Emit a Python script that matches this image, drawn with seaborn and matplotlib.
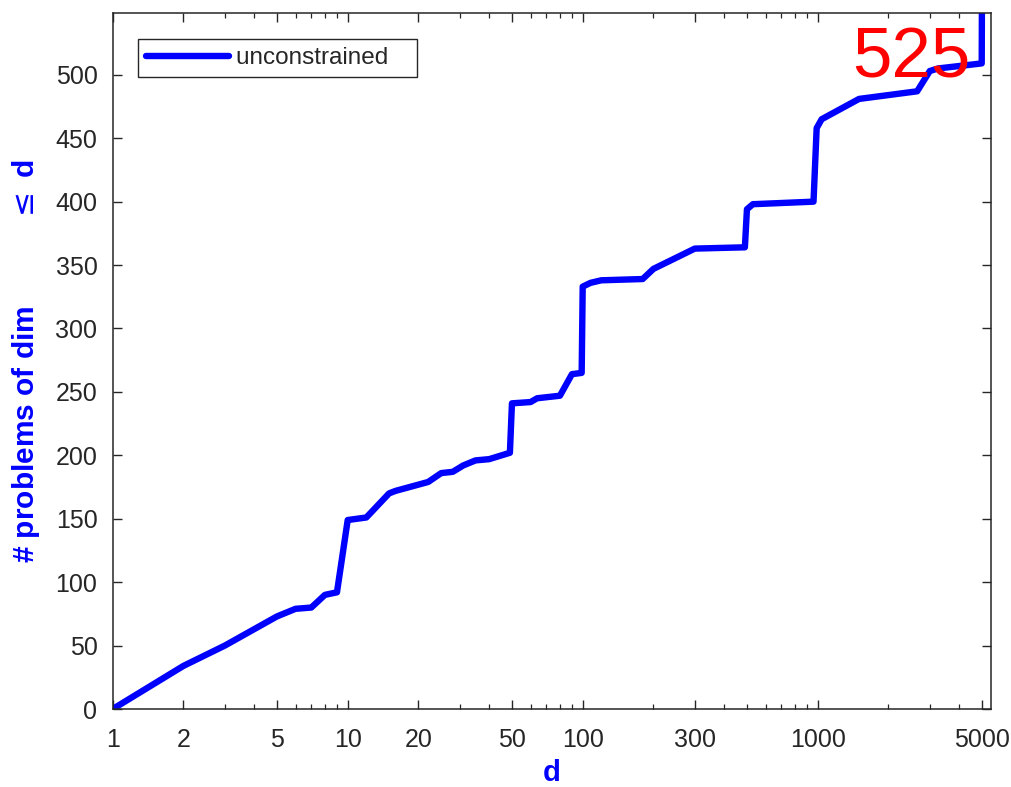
import matplotlib
matplotlib.use("Agg")
import matplotlib.pyplot as plt
import matplotlib.ticker as mticker
import seaborn as sns
import pandas as pd

# data
dims = [1, 2, 3, 5, 6, 7, 8, 9, 10, 12, 15, 16, 22, 25, 28, 31, 35, 40, 49, 50,
        60, 64, 80, 90, 99, 100, 108, 120, 180, 200, 300, 490, 500, 530, 960,
        990, 1040, 1500, 2650, 3000, 3250, 4990, 5000]
counts = [0, 34, 50, 73, 79, 80, 90, 92, 149, 151, 170, 172, 179, 186, 187, 192,
          196, 197, 202, 241, 242, 245, 247, 264, 265, 333, 336, 338, 339, 347,
          363, 364, 394, 398, 400, 458, 465, 481, 487, 503, 505, 509, 560]
series_name = "unconstrained"
total_label = "525"
xtick_values = [1, 2, 5, 10, 20, 50, 100, 300, 1000, 5000]
ytick_values = [0, 50, 100, 150, 200, 250, 300, 350, 400, 450, 500]

sns.set_style("ticks")
plt.rcParams["font.family"] = ["Liberation Sans", "DejaVu Sans"]

df = pd.DataFrame({"d": dims, "n": counts, "series": series_name})

fig = plt.figure(figsize=(10.11, 7.87), dpi=100)
ax = fig.add_axes([0.1115, 0.0991, 0.8690, 0.8848])

sns.lineplot(data=df, x="d", y="n", ax=ax, color="#0000ff", lw=4.6,
             sort=False, estimator=None, label=series_name + "\u2007 ")

ax.set_xscale("log")
ax.set_xlim(1, 5480)
ax.set_ylim(0, 549)

ax.xaxis.set_major_locator(mticker.FixedLocator(xtick_values))
ax.xaxis.set_major_formatter(mticker.FixedFormatter([str(v) for v in xtick_values]))
ax.xaxis.set_minor_locator(mticker.LogLocator(base=10, subs=range(1, 10), numticks=20))
ax.xaxis.set_minor_formatter(mticker.NullFormatter())
ax.yaxis.set_major_locator(mticker.FixedLocator(ytick_values))

dark = "#262626"
for s in ax.spines.values():
    s.set_visible(True)
    s.set_color(dark)
    s.set_linewidth(1.1)

ax.tick_params(which="both", direction="in", top=True, right=True, colors=dark)
ax.tick_params(which="major", length=6.5, width=1.0, labelsize=18)
ax.tick_params(which="minor", length=3.5, width=0.9)
ax.tick_params(axis="x", which="major", pad=14)
ax.tick_params(axis="y", which="major", pad=11)

ax.set_xlabel("d", color="#0000ff", fontsize=21, fontweight="bold", labelpad=5)
ax.set_ylabel("# problems of dim          $\\leq$ d", color="#0000ff",
              fontsize=21.5, fontweight="bold", labelpad=10)

ax.text(1400, 498, total_label, color="#ff0000", fontsize=51,
        ha="left", va="baseline")

leg = ax.legend(loc="upper left", bbox_to_anchor=(0.029, 0.962), borderaxespad=0,
                fontsize=17.5, frameon=True, fancybox=False, handlelength=3.4,
                handletextpad=0.3, borderpad=0.33)
leg.get_frame().set_edgecolor(dark)
leg.get_frame().set_linewidth(1.0)
leg.get_frame().set_alpha(1)

fig.savefig("out.png", dpi=100)
